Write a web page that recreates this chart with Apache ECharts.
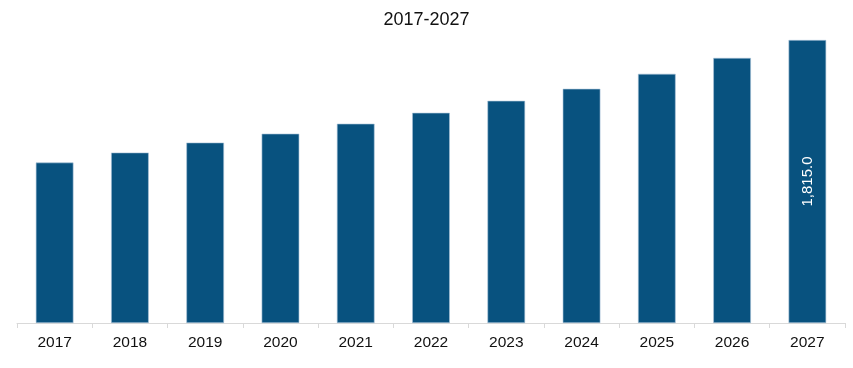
<!DOCTYPE html>
<html>
<head>
<meta charset="utf-8">
<script src="https://cdn.jsdelivr.net/npm/echarts@6/dist/echarts.min.js"></script>
<style>
  html, body { margin: 0; padding: 0; background: #fff; }
  #main { width: 853px; height: 368px; }
</style>
</head>
<body>
<div id="main"></div>
<script>
// years and market values
var years = ['2017', '2018', '2019', '2020', '2021', '2022', '2023', '2024', '2025', '2026', '2027'];
var values = [1029, 1093, 1157, 1214, 1278, 1348, 1425, 1502, 1598, 1700, 1815.0];

var chart = echarts.init(document.getElementById('main'));

var option = {
    title: {
        text: '2017-2027',
        left: 'center',
        top: 6,
        textStyle: {
            fontFamily: 'Liberation Sans Narrow, Liberation Sans, sans-serif',
            fontWeight: 'normal',
            fontSize: 18,
            color: '#111'
        }
    },
    grid: {
        left: 17,
        right: 8,
        top: 40,
        bottom: 45
    },
    xAxis: {
        type: 'category',
        data: years,
        axisLine: { lineStyle: { color: '#d9d9d9' } },
        axisTick: { show: true, length: 5, lineStyle: { color: '#d9d9d9' } },
        axisLabel: {
            color: '#111',
            fontSize: 15.5,
            fontFamily: 'Liberation Sans, sans-serif',
            margin: 12
        }
    },
    yAxis: {
        type: 'value',
        min: 0,
        max: 1815,
        show: false,
        splitLine: { show: false }
    },
    series: [{
        type: 'bar',
        data: values,
        barWidth: '50%',
        itemStyle: {
            color: '#08527f',
            borderColor: '#a9c3d8',
            borderWidth: 0.6
        },
        label: {
            show: true,
            position: 'inside',
            rotate: 90,
            color: '#fff',
            fontSize: 15,
            fontFamily: 'Liberation Sans, sans-serif',
            formatter: function (p) {
                if (p.dataIndex !== values.length - 1) return '';
                return p.value.toLocaleString('en-US', { minimumFractionDigits: 1, maximumFractionDigits: 1 });
            }
        }
    }]
};

chart.setOption(option);
</script>
</body>
</html>
